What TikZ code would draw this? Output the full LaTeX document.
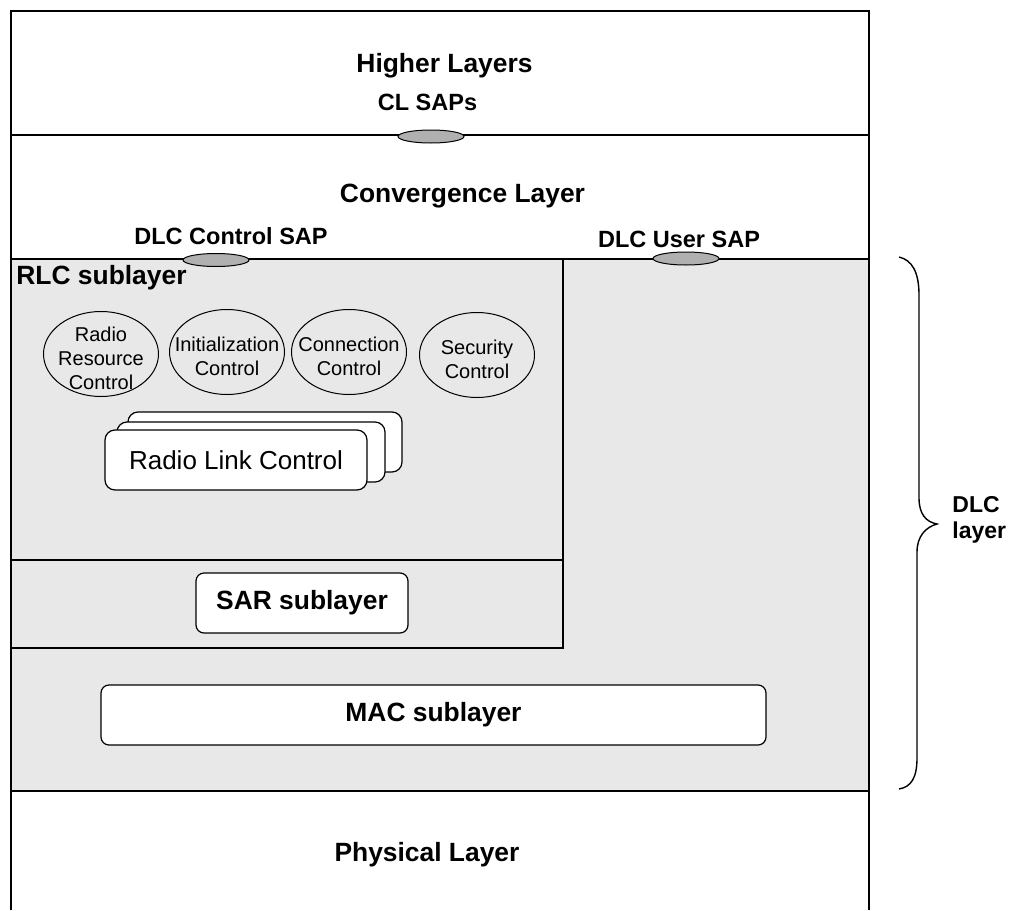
\documentclass[tikz,border=0pt]{standalone}
\usepackage{fontspec}
\setmainfont{Liberation Sans}
\usetikzlibrary{shapes.geometric,positioning}
\definecolor{dlcgray}{RGB}{232,232,232}
\definecolor{sapgray}{RGB}{176,176,176}
\tikzset{
	frame/.style={line width=1pt},
	subline/.style={line width=0.75pt},
	layer/.style={font=\bfseries\fontsize{13.2}{15}\selectfont,inner sep=0pt},
	saplbl/.style={font=\bfseries\fontsize{11.75}{14}\selectfont,inner sep=0pt},
	sap/.style={ellipse,draw,fill=sapgray,line width=0.5pt,minimum width=33pt,minimum height=6.5pt,inner sep=0pt},
	ctrl/.style={ellipse,draw,line width=0.5pt,minimum width=57.5pt,minimum height=42.5pt,inner sep=0pt},
	ctrltxt/.style={font=\fontsize{10}{12}\selectfont,align=center,inner sep=0pt,yshift=-2pt},
	rlbox/.style={draw,fill=white,rounded corners=5pt,line width=0.6pt,minimum width=#1,minimum height=30pt,inner sep=0pt},
	subbox/.style={draw,fill=white,rounded corners=4pt,line width=0.6pt,minimum height=30pt,inner sep=0pt,font=\bfseries\fontsize{13.2}{15}\selectfont}
}
\begin{document}
\begin{tikzpicture}[x=0.5pt,y=-0.5pt]
	\useasboundingbox (0,0) rectangle (1011,910);
	\fill[dlcgray] (11,259) rectangle (869,791);
	\draw[frame] (11,910) -- (11,11) -- (869,11) -- (869,910);
	\draw[frame] (11,134.5) -- (869,134.5);
	\draw[frame] (11,259) -- (869,259);
	\draw[frame] (11,791) -- (869,791);
	\draw[subline] (11,560) -- (563,560);
	\draw[subline] (563,259) -- (563,648) -- (11,648);
	
	\node[layer,anchor=base] (higher) at (444.5,72.5) {Higher Layers};
	\node[saplbl,anchor=base] (clsaplbl) at (427.5,110) {CL SAPs};
	\node[sap] (clsap) at (431,136.5) {};
	\node[layer,anchor=base] (conv) at (462.5,202) {Convergence Layer};
	\node[saplbl,anchor=base] (ctrlsaplbl) at (231,244) {DLC Control SAP};
	\node[sap] (ctrlsap) at (216,260) {};
	\node[saplbl,anchor=base] (usersaplbl) at (679,247) {DLC User SAP};
	\node[sap] (usersap) at (686,258.5) {};
	\node[layer,anchor=base west] (rlc) at (16,284) {RLC sublayer};
	
	\node[ctrl,label={[ctrltxt]center:Radio\\Resource\\Control}] (rrc) at (101,354) {};
	\node[ctrl,label={[ctrltxt]center:Initialization\\Control}] (init) at (227,352) {};
	\node[ctrl,label={[ctrltxt]center:Connection\\Control}] (conn) at (349,352) {};
	\node[ctrl,label={[ctrltxt]center:Security\\Control}] (sec) at (477,355) {};
	
	\node[rlbox=137pt] (rlk3) at (265,442) {};
	\node[rlbox=134pt] (rlk2) at (251,452) {};
	\node[rlbox=131pt,font=\fontsize{13}{15}\selectfont] (rlk1) at (236,460) {Radio Link Control};
	
	\node[subbox,minimum width=106pt] (sar) at (302,603) {SAR sublayer};
	\node[subbox,minimum width=332.5pt] (mac) at (433.5,715) {MAC sublayer};
	\node[layer,anchor=base] (phy) at (427,861) {Physical Layer};
	
	\draw[line width=0.7pt] (899,257) .. controls (912,260) and (919,272) .. (919,295) -- (919,498)
		.. controls (919,514) and (926,522) .. (937,524) .. controls (926,527) and (917,536) .. (917,552)
		-- (917,758) .. controls (917,778) and (911,787) .. (899,789);
	\node[font=\bfseries\fontsize{11.5}{13}\selectfont,align=left,anchor=west,inner sep=0pt] (dlc) at (952,520) {DLC\\layer};
\end{tikzpicture}
\end{document}
